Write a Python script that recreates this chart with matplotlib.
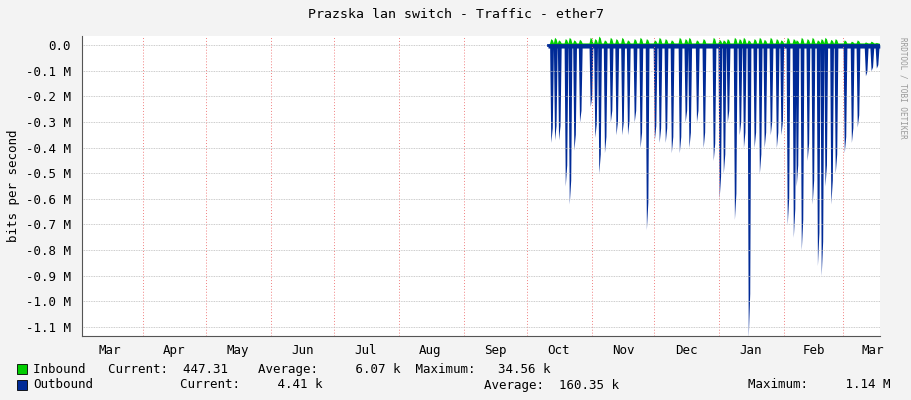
import matplotlib
matplotlib.use("Agg")
import matplotlib.pyplot as plt
import numpy as np

# days since Mar 1
month_starts = [31, 61, 92, 122, 153, 184, 214, 245, 275, 306, 337, 365]
month_label_pos = [15, 46, 76, 107, 137, 168, 199, 229, 260, 290, 321, 351, 379]
month_labels = ["Mar", "Apr", "May", "Jun", "Jul", "Aug", "Sep", "Oct", "Nov", "Dec", "Jan", "Feb", "Mar"]
yticks = [0.0, -0.1, -0.2, -0.3, -0.4, -0.5, -0.6, -0.7, -0.8, -0.9, -1.0, -1.1]
ylabels = ["0.0", "-0.1 M", "-0.2 M", "-0.3 M", "-0.4 M", "-0.5 M", "-0.6 M", "-0.7 M", "-0.8 M", "-0.9 M", "-1.0 M", "-1.1 M"]

# outbound spikes (day, M bits/s)
out_days = [225.9, 227.7, 229.6, 232.8, 234.7, 236.9, 239.6, 244.7, 246.9, 248.8, 251.5, 254.3, 257.0,
            259.8, 262.5, 265.7, 268.5, 271.5, 275.3, 277.6, 280.5, 283.4, 287.2, 290.0, 291.8, 295.4,
            298.6, 303.4, 306.2, 308.2, 310.1, 313.5, 315.8, 317.8, 320.1, 322.9, 325.4, 327.7, 330.6,
            333.5, 335.7, 338.7, 341.6, 343.0, 345.4, 348.2, 350.6, 353.1, 354.9, 356.7, 359.5, 361.6,
            365.9, 369.3, 372.1, 376.0, 378.7, 381.2]
out_vals = [0.38, 0.37, 0.37, 0.55, 0.62, 0.41, 0.3, 0.24, 0.36, 0.5, 0.42, 0.3, 0.35, 0.35, 0.35, 0.3,
            0.4, 0.72, 0.37, 0.38, 0.38, 0.42, 0.42, 0.3, 0.4, 0.3, 0.4, 0.45, 0.6, 0.5,
            0.3, 0.68, 0.35, 0.4, 1.14, 0.4, 0.5, 0.4, 0.35, 0.4, 0.35, 0.7, 0.75, 0.55,
            0.8, 0.45, 0.62, 0.86, 0.9, 0.55, 0.62, 0.5, 0.42, 0.38, 0.32, 0.12, 0.1, 0.09]
in_vals = [0.025, 0.03, 0.02, 0.025, 0.03, 0.02, 0.022, 0.03, 0.025, 0.035, 0.02, 0.03, 0.025, 0.03, 0.02, 0.025,
           0.03, 0.025, 0.02, 0.03, 0.025, 0.02, 0.03, 0.025, 0.03, 0.02, 0.025, 0.03, 0.022, 0.02,
           0.025, 0.03, 0.025, 0.03, 0.02, 0.025, 0.03, 0.022, 0.03, 0.025, 0.02, 0.03, 0.025, 0.02,
           0.03, 0.025, 0.03, 0.02, 0.025, 0.03, 0.022, 0.025, 0.02, 0.015, 0.02, 0.012, 0.015, 0.01]
start_day, end_day = 224.2, 382.5
baseline = 0.012

xs, ys, yi = [start_day], [-baseline], [0.0]
for d, v, w in zip(out_days, out_vals, in_vals):
    xs += [d - 0.9, d - 0.35, d + 0.35, d + 0.9]
    ys += [-baseline, -v, -v * 0.85, -baseline]
    yi += [0.008, w, w * 0.8, 0.008]
xs.append(end_day); ys.append(-baseline); yi.append(0.0)

fig = plt.figure(figsize=(9.11, 4.0), dpi=100, facecolor="#F3F3F3")
ax = fig.add_axes([82/911, 64/400, 798/911, 300/400])
ax.set_facecolor("white")
ax.fill_between(xs, 0, yi, color="#00CC00", lw=0)
ax.fill_between(xs, 0, ys, color="#002A97", lw=0)
ax.plot([start_day, end_day], [0, 0], color="#002A97", lw=2)

ax.set_xlim(1.9, 382.6)
ax.set_ylim(-1.135, 0.035)
ax.set_yticks(yticks)
ax.set_yticklabels(ylabels)
ax.set_xticks(month_starts)
ax.set_xticklabels([])
ax.set_xticks(month_label_pos, minor=True)
ax.set_xticklabels(month_labels, minor=True)
ax.tick_params(axis="x", which="both", length=0, labelsize=9, colors="black")
ax.tick_params(axis="x", which="minor", pad=6)
ax.tick_params(axis="y", length=0, labelsize=9, pad=8)
for t in ax.get_xticklabels(minor=True) + ax.get_yticklabels():
    t.set_family("DejaVu Sans Mono")
ax.grid(axis="y", color="#BBBBBB", ls=(0, (1, 1)), lw=0.6)
ax.grid(axis="x", which="major", color="#F08080", ls=(0, (1, 2)), lw=0.7)
for s in ["top", "right"]:
    ax.spines[s].set_visible(False)
ax.spines["left"].set_color("#555555")
ax.spines["bottom"].set_color("#555555")
ax.set_ylabel("bits per second", family="DejaVu Sans Mono", fontsize=9)

fig.text(0.5, 0.965, "Prazska lan switch - Traffic - ether7", ha="center", va="center",
         family="DejaVu Sans Mono", fontsize=9.5)
fig.text(0.991, 0.78, "RRDTOOL / TOBI OETIKER", rotation=270, ha="center", va="center",
         family="DejaVu Sans Mono", fontsize=5.5, color="#999999")

fig.patches.append(plt.Rectangle((17/911, 26/400), 10/911, 10/400, transform=fig.transFigure,
                                 facecolor="#00CC00", edgecolor="black", lw=0.6))
fig.patches.append(plt.Rectangle((17/911, 10/400), 10/911, 10/400, transform=fig.transFigure,
                                 facecolor="#002A97", edgecolor="black", lw=0.6))
mono = dict(family="DejaVu Sans Mono", fontsize=9, va="center")
fig.text(33/911, 31/400, "Inbound   Current:  447.31    Average:     6.07 k  Maximum:   34.56 k", **mono)
fig.text(33/911, 15/400, "Outbound", **mono)
fig.text(180/911, 15/400, "Current:     4.41 k", **mono)
fig.text(484/911, 15/400, "Average:  160.35 k", **mono)
fig.text(748/911, 15/400, "Maximum:     1.14 M", **mono)

fig.savefig("out.png", dpi=100, facecolor=fig.get_facecolor())
